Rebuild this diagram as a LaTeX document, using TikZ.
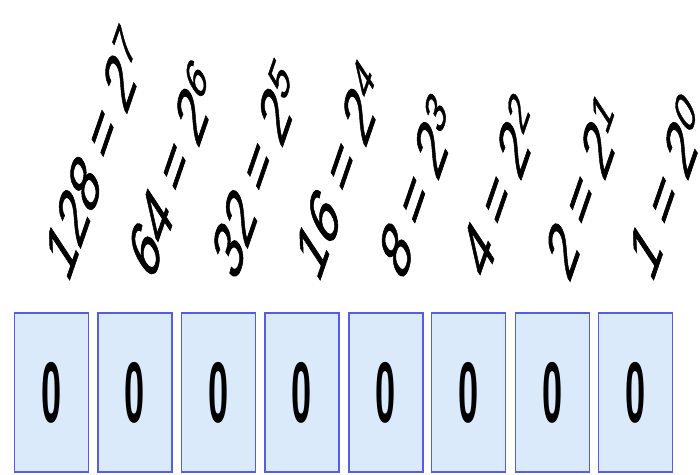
\documentclass[tikz,border=0pt]{standalone}
\usepackage{fontspec}
\setmainfont{Liberation Sans}
\newfontfamily\weightfont{Liberation Sans}[FakeBold=1.2]
\usepackage{tikz}
\usetikzlibrary{positioning}

\definecolor{bitfill}{RGB}{218,234,250}
\definecolor{bitdraw}{RGB}{84,94,228}
\newcommand{\narrowbit}[1]{\scalebox{0.42}[1]{#1}}

\begin{document}
\begin{tikzpicture}[bit/.style={rectangle, draw=bitdraw, fill=bitfill, line width=1.1pt,
    minimum width=1.48cm, minimum height=3.18cm, inner sep=0pt,
    font=\fontsize{49}{49}\selectfont\bfseries},
  weight/.style={anchor=base west, inner sep=0pt, rotate=71, xslant=0.77, yscale=0.8,
    font=\weightfont\fontsize{36}{36}\selectfont}]
  \useasboundingbox (0,0) rectangle (14,9.5);

  % Bits, highest first
  \node[bit] (b7) at (1.03,1.65)  {\narrowbit{0}};
  \node[bit] (b6) at (2.70,1.65)  {\narrowbit{0}};
  \node[bit] (b5) at (4.37,1.65)  {\narrowbit{0}};
  \node[bit] (b4) at (6.04,1.65)  {\narrowbit{0}};
  \node[bit] (b3) at (7.72,1.65)  {\narrowbit{0}};
  \node[bit] (b2) at (9.37,1.65)  {\narrowbit{0}};
  \node[bit] (b1) at (11.05,1.65) {\narrowbit{0}};
  \node[bit] (b0) at (12.71,1.65) {\narrowbit{0}};

  % Place values above each bit
  \node[weight] (w7) at (1.36,3.80)  {128 = 2\textsuperscript{7}};
  \node[weight] (w6) at (3.03,3.80)  {64 = 2\textsuperscript{6}};
  \node[weight] (w5) at (4.70,3.80)  {32 = 2\textsuperscript{5}};
  \node[weight] (w4) at (6.37,3.80)  {16 = 2\textsuperscript{4}};
  \node[weight] (w3) at (8.05,3.80)  {8 = 2\textsuperscript{3}};
  \node[weight] (w2) at (9.70,3.80)  {4 = 2\textsuperscript{2}};
  \node[weight] (w1) at (11.38,3.80) {2 = 2\textsuperscript{1}};
  \node[weight] (w0) at (13.04,3.80) {1 = 2\textsuperscript{0}};
\end{tikzpicture}
\end{document}
